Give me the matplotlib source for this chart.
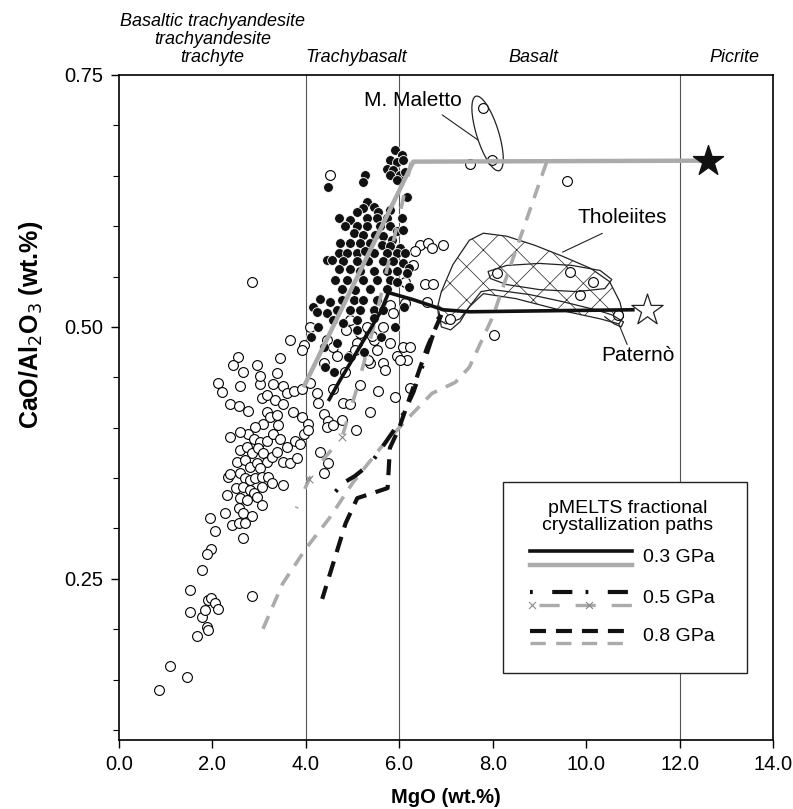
import numpy as np
import matplotlib
matplotlib.use('Agg')
import matplotlib.pyplot as plt
from matplotlib.patches import Ellipse, Polygon, Rectangle
from matplotlib.transforms import ScaledTranslation, blended_transform_factory

plt.rcParams['font.family'] = ['Liberation Sans', 'DejaVu Sans']
plt.rcParams['lines.scale_dashes'] = False
plt.rcParams['hatch.color'] = '#cccccc'
plt.rcParams['hatch.linewidth'] = 0.5

# ---------------- data ----------------
# open circles: whole-rock data (MgO, CaO/Al2O3)
open_mgo = [2.11, 2.20, 2.58, 3.02, 3.30, 3.52, 3.59, 3.75, 3.91, 4.09, 4.23, 4.27, 4.59, 4.80,
            2.38, 2.56, 2.77, 3.06, 3.16, 3.34, 3.52, 3.73, 3.91, 4.05, 4.38, 4.48, 4.45, 4.59,
            3.16, 3.23, 3.38, 3.41, 3.09, 2.91, 2.77, 2.88, 3.02, 3.16, 3.30, 3.45, 3.59, 3.77,
            3.88, 3.95, 4.05, 2.38, 2.59, 2.59, 2.73, 2.84, 2.98, 3.09, 3.16, 3.27, 3.38, 3.52,
            3.66, 3.80, 2.53, 2.70, 2.81, 2.95, 3.02, 2.34, 2.38, 2.59, 2.70, 2.81, 2.91, 3.06,
            3.20, 3.27, 3.52, 2.51, 2.66, 2.81, 2.88, 3.06, 2.31, 2.59, 2.73, 2.95, 3.06, 2.56,
            2.66, 2.84, 2.41, 2.56, 2.70, 2.27, 1.95, 2.06, 2.66, 1.98, 1.88, 1.77, 1.52, 1.52,
            1.77, 1.84, 1.91, 1.98, 2.06, 2.11, 1.88, 1.91, 1.66, 1.09, 1.45, 2.84, 4.30, 4.48,
            4.38, 0.85,
            2.95, 3.02, 3.38, 3.45, 3.66, 3.95, 3.91, 4.09, 4.45, 4.59, 4.87, 4.95, 5.09, 5.16,
            5.30, 5.45, 5.52, 5.66, 5.80, 5.95, 6.09, 6.23, 6.16, 5.66, 5.37, 4.95, 4.66, 4.38,
            6.44, 6.62, 6.69, 6.94, 6.34, 6.30, 6.12, 6.55, 6.73, 5.80, 5.87, 4.52, 2.84, 6.59,
            6.12,
            5.42, 5.05, 5.33, 5.69, 6.02, 4.84, 5.16, 5.54, 5.91, 6.23, 4.95, 5.37, 4.77, 5.07,
            2.55, 2.65, 2.45,
            7.09, 8.02, 8.09, 9.66, 10.15, 9.87, 10.68, 7.52, 7.80, 7.98, 9.60]
open_ratio = [0.444, 0.435, 0.441, 0.443, 0.443, 0.441, 0.434, 0.436, 0.438, 0.444, 0.434, 0.424, 0.438, 0.424,
              0.423, 0.421, 0.417, 0.429, 0.432, 0.427, 0.423, 0.416, 0.411, 0.404, 0.414, 0.407, 0.401, 0.403,
              0.416, 0.411, 0.413, 0.403, 0.404, 0.401, 0.394, 0.389, 0.386, 0.387, 0.394, 0.389, 0.381, 0.387,
              0.384, 0.394, 0.398, 0.391, 0.396, 0.378, 0.381, 0.375, 0.380, 0.375, 0.366, 0.371, 0.376, 0.366,
              0.365, 0.370, 0.366, 0.368, 0.361, 0.365, 0.360, 0.351, 0.354, 0.355, 0.350, 0.348, 0.350, 0.351,
              0.351, 0.345, 0.343, 0.340, 0.341, 0.338, 0.335, 0.341, 0.333, 0.330, 0.328, 0.331, 0.323, 0.320,
              0.315, 0.312, 0.303, 0.305, 0.305, 0.315, 0.310, 0.297, 0.290, 0.280, 0.275, 0.259, 0.239, 0.217,
              0.212, 0.219, 0.229, 0.231, 0.226, 0.220, 0.202, 0.199, 0.193, 0.163, 0.153, 0.233, 0.376, 0.365,
              0.355, 0.140,
              0.462, 0.451, 0.454, 0.469, 0.487, 0.482, 0.477, 0.500, 0.487, 0.480, 0.497, 0.507, 0.484, 0.494,
              0.500, 0.487, 0.477, 0.500, 0.484, 0.471, 0.480, 0.480, 0.467, 0.464, 0.464, 0.471, 0.471, 0.464,
              0.581, 0.583, 0.578, 0.581, 0.575, 0.561, 0.545, 0.543, 0.543, 0.522, 0.514, 0.651, 0.545, 0.525,
              0.524,
              0.491, 0.477, 0.467, 0.457, 0.467, 0.455, 0.442, 0.436, 0.430, 0.439, 0.423, 0.416, 0.408, 0.398,
              0.470, 0.455, 0.462,
              0.508, 0.492, 0.553, 0.554, 0.545, 0.532, 0.512, 0.662, 0.717, 0.666, 0.645]

# filled circles
fill_mgo = [5.91, 6.05, 5.80, 5.95, 6.09, 5.73, 5.87, 6.02, 6.12, 5.80, 5.95, 6.16, 5.27, 5.23,
            4.48, 5.30, 5.45, 5.23, 5.09, 5.55, 5.80, 5.52, 5.73, 5.30, 4.95, 4.70, 4.84, 5.09,
            5.30, 5.59, 5.80, 6.05, 5.95, 6.09, 5.02, 5.23, 5.48, 5.66, 5.84, 4.73, 4.95, 5.16,
            5.37, 5.62, 5.80, 6.02, 4.70, 4.88, 5.09, 5.27, 5.45, 5.73, 5.95, 6.12, 4.45, 4.55,
            4.80, 5.09, 5.34, 5.66, 5.87, 6.09, 6.20, 4.70, 4.95, 5.16, 5.45, 5.73, 5.95, 6.16,
            4.63, 4.88, 5.23, 5.52, 5.80, 5.95, 4.77, 5.05, 5.38, 5.73, 4.30, 4.16, 4.52, 4.77,
            5.02, 5.23, 5.52, 4.23, 4.45, 4.66, 4.95, 5.16, 5.45, 5.66, 4.59, 4.80, 5.09, 5.45,
            5.09, 4.66, 4.38,
            4.40, 4.60, 4.90, 5.25, 5.60, 5.90, 6.10, 6.20, 4.10, 4.25]
fill_ratio = [0.676, 0.671, 0.666, 0.664, 0.666, 0.657, 0.656, 0.651, 0.654, 0.651, 0.646, 0.629, 0.651, 0.644,
              0.639, 0.624, 0.619, 0.618, 0.614, 0.614, 0.616, 0.608, 0.608, 0.608, 0.606, 0.608, 0.600, 0.600,
              0.600, 0.600, 0.600, 0.608, 0.595, 0.596, 0.593, 0.591, 0.591, 0.590, 0.586, 0.583, 0.583, 0.583,
              0.583, 0.581, 0.580, 0.578, 0.573, 0.573, 0.573, 0.575, 0.573, 0.573, 0.573, 0.573, 0.566, 0.566,
              0.565, 0.565, 0.565, 0.565, 0.565, 0.563, 0.558, 0.557, 0.557, 0.555, 0.555, 0.555, 0.555, 0.553,
              0.547, 0.547, 0.547, 0.547, 0.547, 0.545, 0.538, 0.537, 0.538, 0.538, 0.528, 0.520, 0.525, 0.527,
              0.527, 0.527, 0.527, 0.515, 0.514, 0.517, 0.517, 0.517, 0.517, 0.517, 0.507, 0.504, 0.507, 0.509,
              0.497, 0.484, 0.480,
              0.460, 0.455, 0.470, 0.475, 0.490, 0.500, 0.520, 0.540, 0.490, 0.500]

# pMELTS paths
g03_mgo = [12.6, 6.3, 3.95]
g03_ratio = [0.665, 0.664, 0.44]
b03_mgo = [11.0, 9.2, 7.5, 6.94, 6.3, 5.77, 5.6, 5.37, 5.15, 4.95, 4.73, 4.5]
b03_ratio = [0.517, 0.516, 0.515, 0.517, 0.527, 0.534, 0.515, 0.497, 0.48, 0.464, 0.447, 0.428]
b05_mgo = [6.85, 6.6, 6.3, 6.0, 5.7, 5.4, 5.05, 4.8, 4.45]
b05_ratio = [0.510, 0.475, 0.435, 0.405, 0.385, 0.365, 0.352, 0.345, 0.327]
g05_mgo = [6.25, 6.05, 5.75, 5.45, 5.1, 4.77, 4.4, 4.07, 3.8]
g05_ratio = [0.663, 0.62, 0.56, 0.50, 0.44, 0.39, 0.37, 0.349, 0.32]
g05_cross_mgo = [4.77, 4.07]
g05_cross_ratio = [0.391, 0.349]
b08_mgo = [6.9, 6.6, 6.3, 6.0, 5.8, 5.75, 5.1, 4.85, 4.35]
b08_ratio = [0.512, 0.48, 0.44, 0.40, 0.38, 0.34, 0.33, 0.305, 0.23]
g08_mgo = [9.15, 8.6, 8.0, 7.5, 7.2, 6.7, 6.2, 5.6, 5.0, 4.5, 4.0, 3.5, 3.08]
g08_ratio = [0.663, 0.59, 0.51, 0.46, 0.445, 0.434, 0.41, 0.38, 0.345, 0.31, 0.28, 0.245, 0.20]

# starting compositions (stars)
star_fill = (12.6, 0.665)
star_open = (11.3, 0.517)

# Tholeiites outlines
thol_mgo = [6.82, 6.9, 7.15, 7.5, 7.8, 8.3, 8.9, 9.5, 10.1, 10.5, 10.72, 10.8, 10.7, 10.3, 9.5, 8.5,
            7.8, 7.5, 7.3, 7.0, 6.85]
thol_ratio = [0.52, 0.535, 0.562, 0.586, 0.593, 0.590, 0.581, 0.570, 0.558, 0.545, 0.525, 0.51, 0.503,
              0.508, 0.516, 0.528, 0.533, 0.52, 0.508, 0.503, 0.507]
inner_mgo = [7.9, 8.3, 9.0, 9.7, 10.3, 10.55, 10.4, 9.8, 9.0, 8.3, 7.95]
inner_ratio = [0.555, 0.561, 0.563, 0.561, 0.556, 0.547, 0.538, 0.535, 0.537, 0.542, 0.548]
pat_mgo = [6.85, 6.9, 7.1, 7.3, 7.5, 7.75, 8.0, 8.8, 9.5, 10.2, 10.55, 10.8, 10.75, 10.6, 10.4]
pat_ratio = [0.515, 0.5, 0.497, 0.505, 0.52, 0.535, 0.537, 0.532, 0.525, 0.517, 0.512, 0.505, 0.5, 0.503, 0.51]

div_mgo = [4.0, 6.0, 12.0]
field_names = ['Basaltic trachyandesite\ntrachyandesite\ntrachyte', 'Trachybasalt', 'Basalt', 'Picrite']
field_x = [2.0, 5.07, 8.88, 13.18]

x_ticks = [0.0, 2.0, 4.0, 6.0, 8.0, 10.0, 12.0, 14.0]
y_ticks = [0.25, 0.50, 0.75]

# ---------------- figure ----------------
fig = plt.figure(figsize=(7.93, 8.09), dpi=100)
ax = fig.add_axes([119/793, 1 - 740/809, 654/793, 665/809])
ax.set_xlim(0, 14)
ax.set_ylim(0.09, 0.75)

for xv in div_mgo:
    ax.axvline(xv, color='#555555', lw=0.8, zorder=1)

GRAY = '#ababab'
ax.scatter(open_mgo, open_ratio, s=50, facecolor='white', edgecolor='black', linewidth=0.8, zorder=3)
ax.scatter(fill_mgo, fill_ratio, s=50, facecolor='#111111', edgecolor='white', linewidth=0.6, zorder=4)

ax.plot(g03_mgo, g03_ratio, color=GRAY, lw=3.2, solid_capstyle='butt', zorder=5)
ax.plot(g05_mgo, g05_ratio, color=GRAY, lw=2.6, linestyle=(0, (10, 14)), zorder=5)
ax.scatter(g05_cross_mgo, g05_cross_ratio, marker='x', s=30, color='#888888', linewidth=0.8, zorder=5)
ax.plot(g08_mgo, g08_ratio, color=GRAY, lw=2.6, linestyle=(0, (10, 7)), zorder=5)
ax.plot(b03_mgo, b03_ratio, color='#111111', lw=2.6, zorder=6)
ax.plot(b05_mgo, b05_ratio, color='#111111', lw=3.0, linestyle=(0, (2, 12, 14, 9)), zorder=6)
ax.plot(b08_mgo, b08_ratio, color='#111111', lw=3.0, linestyle=(0, (11.5, 7)), zorder=6)

ax.scatter([star_fill[0]], [star_fill[1]], marker='*', s=520, facecolor='#111111', edgecolor='#111111', zorder=7)
ax.scatter([star_open[0]], [star_open[1]], marker='*', s=560, facecolor='white', edgecolor='#222222', linewidth=0.9, zorder=7)

ax.add_patch(Polygon(list(zip(thol_mgo, thol_ratio)), closed=True, facecolor='none', edgecolor='#222222',
                     lw=0.9, hatch='x', zorder=2))
ax.add_patch(Polygon(list(zip(inner_mgo, inner_ratio)), closed=True, facecolor='none', edgecolor='#222222',
                     lw=0.9, zorder=4))
ax.plot(pat_mgo, pat_ratio, color='#222222', lw=0.9, zorder=4)

# M. Maletto ellipse (size in inches, placed at data centre)
ell = Ellipse((0, 0), 0.78, 0.22, angle=-72.6, facecolor='none', edgecolor='#222222', lw=0.9,
              transform=fig.dpi_scale_trans + ScaledTranslation(7.89, 0.692, ax.transData), zorder=4)
ax.add_patch(ell)

ax.annotate('', xy=(7.73, 0.684), xytext=(6.87, 0.712),
            arrowprops=dict(arrowstyle='-', color='#222222', lw=0.8))
ax.text(6.29, 0.725, 'M. Maletto', fontsize=15, ha='center', va='center')
ax.annotate('', xy=(9.44, 0.573), xytext=(10.4, 0.594),
            arrowprops=dict(arrowstyle='-', color='#222222', lw=0.8))
ax.text(10.77, 0.609, 'Tholeiites', fontsize=15, ha='center', va='center')
ax.annotate('', xy=(10.68, 0.505), xytext=(10.9, 0.48),
            arrowprops=dict(arrowstyle='-', color='#222222', lw=0.8))
ax.text(11.1, 0.472, 'Paternò', fontsize=15, ha='center', va='center')

# field names above the plot
trans = blended_transform_factory(ax.transData, ax.transAxes)
for name, xv in zip(field_names, field_x):
    ax.text(xv, 1.014, name, transform=trans, ha='center', va='bottom', fontsize=13,
            style='italic', linespacing=1.05)

# legend box (manual)
ax.add_patch(Rectangle((0.587, 0.101), 0.373, 0.287, transform=ax.transAxes, facecolor='white',
                       edgecolor='#222222', lw=1.0, zorder=10))
ax.text(0.778, 0.335, 'pMELTS fractional\ncrystallization paths', transform=ax.transAxes,
        ha='center', va='center', fontsize=14, linespacing=1.0, zorder=11)
lx = [0.628, 0.784]
ax.plot(lx, [0.284, 0.284], transform=ax.transAxes, color='#111111', lw=2.6, zorder=11)
ax.plot(lx, [0.263, 0.263], transform=ax.transAxes, color=GRAY, lw=3.2, zorder=11)
ax.plot(lx, [0.2226, 0.2226], transform=ax.transAxes, color='#111111', lw=3.0,
        linestyle=(0, (2, 14, 14.5, 9.5)), zorder=11)
ax.plot([0.642, 0.784], [0.203, 0.203], transform=ax.transAxes, color=GRAY, lw=2.4,
        linestyle=(0, (14.5, 11.5)), zorder=11)
ax.scatter([0.631, 0.718], [0.203, 0.203], transform=ax.transAxes, marker='x', s=25,
           color='#888888', linewidth=0.8, zorder=11)
ax.plot(lx, [0.164, 0.164], transform=ax.transAxes, color='#111111', lw=3.0,
        linestyle=(0, (11.5, 7.2)), zorder=11)
ax.plot(lx, [0.146, 0.146], transform=ax.transAxes, color=GRAY, lw=2.4,
        linestyle=(0, (11, 7.5)), zorder=11)
for yy, lab in zip([0.274, 0.2135, 0.155], ['0.3 GPa', '0.5 GPa', '0.8 GPa']):
    ax.text(0.801, yy, lab, transform=ax.transAxes, ha='left', va='center', fontsize=14, zorder=11)

# axes, ticks
ax.set_xticks(x_ticks)
ax.set_xticklabels([f'{v:.1f}' for v in x_ticks])
ax.set_yticks(y_ticks)
ax.set_yticklabels([f'{v:.2f}' for v in y_ticks])
ax.set_yticks(np.round(np.arange(0.10, 0.75, 0.05), 2), minor=True)
ax.tick_params(axis='both', which='major', direction='out', length=6, width=1, labelsize=14.5, pad=5)
ax.tick_params(axis='y', which='minor', direction='out', length=4, width=0.8)
for sp in ax.spines.values():
    sp.set_linewidth(1.2)
ax.set_xlabel('MgO (wt.%)', fontsize=14.5, fontweight='bold', labelpad=10)
ax.set_ylabel('CaO/Al$_2$O$_3$ (wt.%)', fontsize=18, fontweight='bold')
ax.yaxis.set_label_coords(-0.113, 0.624)

fig.savefig('out.png', dpi=100)
